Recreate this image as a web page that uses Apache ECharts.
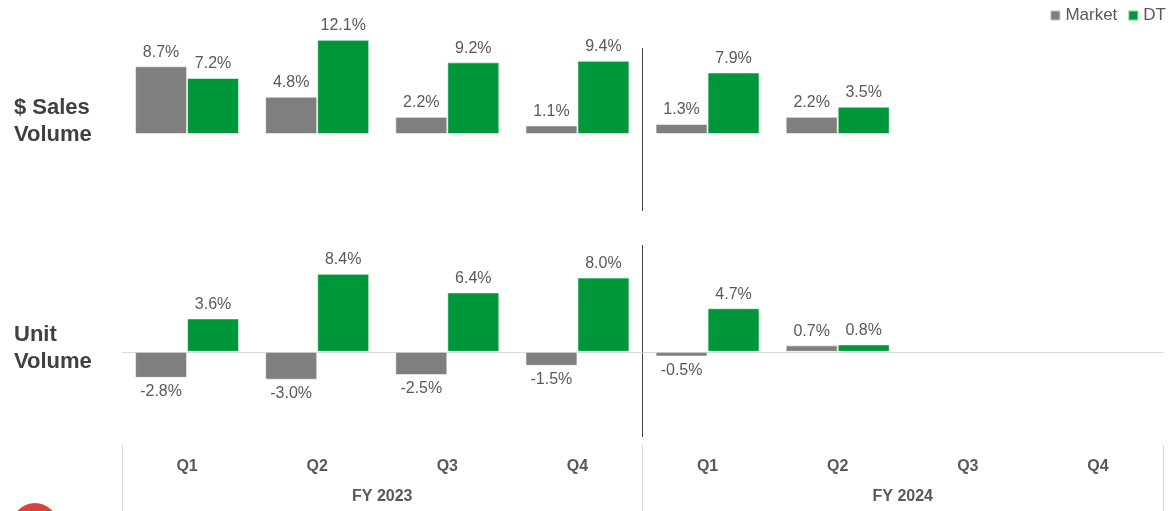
<!DOCTYPE html>
<html>
<head>
<meta charset="utf-8">
<style>
  html, body { margin: 0; padding: 0; background: #fff; }
  #chart { width: 1173px; height: 511px; }
</style>
<script src="https://cdn.jsdelivr.net/npm/echarts@6/dist/echarts.min.js"></script>
</head>
<body>
<div id="chart"></div>
<script>
  // 季度 / 财年
  var quarters = ['Q1', 'Q2', 'Q3', 'Q4', 'Q1', 'Q2', 'Q3', 'Q4'];
  var fiscalYears = ['FY 2023', 'FY 2024'];
  // $ Sales Volume (%)
  var salesMarket = [8.7, 4.8, 2.2, 1.1, 1.3, 2.2, null, null];
  var salesDT = [7.2, 12.1, 9.2, 9.4, 7.9, 3.5, null, null];
  // Unit Volume (%)
  var unitMarket = [-2.8, -3.0, -2.5, -1.5, -0.5, 0.7, null, null];
  var unitDT = [3.6, 8.4, 6.4, 8.0, 4.7, 0.8, null, null];

  var colorMarket = '#7f7f7f';
  var colorDT = '#00973a';
  var textColor = '#595959';
  var fontFamily = '"Liberation Sans", Arial, sans-serif';

  var chart = echarts.init(document.getElementById('chart'));

  // 正值标签在上，负值标签在下
  function toData(arr) {
    return arr.map(function (v) {
      if (v === null) return null;
      return {
        value: v,
        label: { position: v < 0 ? 'bottom' : 'top' }
      };
    });
  }

  function barSeries(name, arr, color, idx) {
    return {
      name: name,
      type: 'bar',
      xAxisIndex: idx,
      yAxisIndex: idx,
      data: toData(arr),
      barWidth: 52,
      barGap: '0%',
      itemStyle: {
        color: color,
        borderColor: 'rgba(255,255,255,0.55)',
        borderWidth: 1
      },
      label: {
        show: true,
        distance: 6,
        color: textColor,
        fontSize: 16,
        fontFamily: fontFamily,
        formatter: function (p) {
          return p.value.toFixed(1) + '%';
        }
      }
    };
  }

  var hiddenCat = function (gridIndex) {
    return {
      type: 'category',
      gridIndex: gridIndex,
      data: quarters,
      axisLine: { show: false },
      axisTick: { show: false },
      axisLabel: { show: false }
    };
  };

  // 分隔竖线（用 value 轴 splitLine，只显示中间一条）
  var dividerAxis = function (gridIndex, colors) {
    return {
      type: 'value',
      gridIndex: gridIndex,
      min: 0,
      max: 8,
      interval: 4,
      axisLine: { show: false },
      axisTick: { show: false },
      axisLabel: { show: false },
      splitLine: { show: true, lineStyle: { color: colors, width: 1 } }
    };
  };

  var hiddenY = function (gridIndex, min, max) {
    return {
      type: 'value',
      gridIndex: gridIndex,
      min: min,
      max: max,
      show: false,
      splitLine: { show: false }
    };
  };

  chart.setOption({
    animation: false,
    textStyle: { fontFamily: fontFamily },
    legend: {
      data: ['Market', 'DT'],
      right: 7,
      top: 7,
      padding: 0,
      icon: 'rect',
      itemWidth: 10,
      itemHeight: 10,
      itemGap: 10,
      textStyle: { color: textColor, fontSize: 17, fontFamily: fontFamily }
    },
    title: [
      {
        text: '$ Sales\nVolume',
        left: 14,
        top: 94,
        padding: 0,
        textStyle: { color: '#404040', fontSize: 22, fontWeight: 'bold', lineHeight: 27, fontFamily: fontFamily }
      },
      {
        text: 'Unit\nVolume',
        left: 14,
        top: 321,
        padding: 0,
        textStyle: { color: '#404040', fontSize: 22, fontWeight: 'bold', lineHeight: 27, fontFamily: fontFamily }
      }
    ],
    grid: [
      { left: 122, right: 10, top: 25, height: 109 },   // 0 sales
      { left: 122, right: 10, top: 259, height: 130 },  // 1 unit
      { left: 122, right: 10, top: 445, bottom: 0 },    // 2 axis labels
      { left: 122, right: 10, top: 48, height: 163 },   // 3 divider top
      { left: 122, right: 10, top: 245, height: 192 }   // 4 divider bottom
    ],
    xAxis: [
      hiddenCat(0),
      {
        type: 'category',
        gridIndex: 1,
        data: quarters,
        axisLine: { show: true, onZero: true, lineStyle: { color: '#d9d9d9', width: 1 } },
        axisTick: { show: false },
        axisLabel: { show: false }
      },
      dividerAxis(2, ['#d9d9d9']),
      dividerAxis(3, ['rgba(0,0,0,0)', '#404040']),
      dividerAxis(4, ['rgba(0,0,0,0)', '#404040']),
      {
        type: 'category',
        gridIndex: 2,
        position: 'top',
        data: quarters,
        axisLine: { show: false },
        axisTick: { show: false },
        axisLabel: {
          inside: true,
          margin: 14,
          color: textColor,
          fontSize: 16,
          fontWeight: 'bold',
          fontFamily: fontFamily
        }
      },
      {
        type: 'category',
        gridIndex: 2,
        position: 'bottom',
        data: fiscalYears,
        axisLine: { show: false },
        axisTick: { show: false },
        axisLabel: {
          inside: true,
          margin: 6,
          color: textColor,
          fontSize: 16,
          fontWeight: 'bold',
          fontFamily: fontFamily
        }
      }
    ],
    yAxis: [
      hiddenY(0, 0, 14),
      hiddenY(1, -4, 10),
      hiddenY(2, 0, 1),
      hiddenY(3, 0, 1),
      hiddenY(4, 0, 1)
    ],
    graphic: [
      {
        type: 'circle',
        shape: { cx: 35, cy: 526, r: 23 },
        style: { fill: '#d9413a' },
        silent: true
      }
    ],
    series: [
      barSeries('Market', salesMarket, colorMarket, 0),
      barSeries('DT', salesDT, colorDT, 0),
      barSeries('Market', unitMarket, colorMarket, 1),
      barSeries('DT', unitDT, colorDT, 1)
    ]
  });
</script>
</body>
</html>
